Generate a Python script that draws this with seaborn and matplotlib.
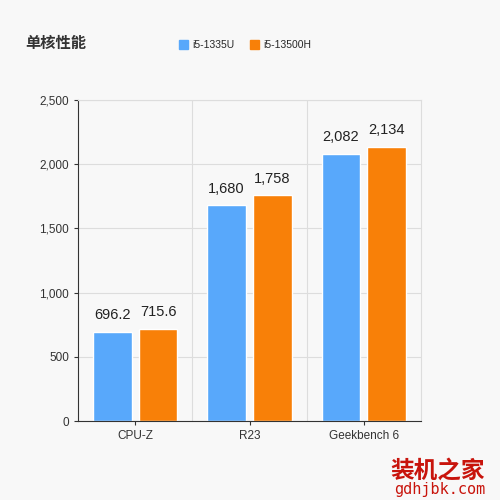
import matplotlib.pyplot as plt
import pandas as pd
import seaborn as sns
from matplotlib.patches import Patch
from matplotlib.ticker import FuncFormatter

categories = ["CPU-Z", "R23", "Geekbench 6"]
series = ["i5-1335U", "i5-13500H"]
u_vals = [696.2, 1680, 2082]
h_vals = [715.6, 1758, 2134]
labels_u = ["696.2", "1,680", "2,082"]
labels_h = ["715.6", "1,758", "2,134"]

df = pd.DataFrame({
    "cat": categories * 2,
    "cpu": [series[0]] * 3 + [series[1]] * 3,
    "val": u_vals + h_vals,
})

sns.set_style("white")
plt.rcParams["font.family"] = ["Liberation Sans", "Noto Sans CJK SC", "DejaVu Sans"]
bg = "#f8f8f8"
colors = ["#58a8fb", "#f88008"]

fig = plt.figure(figsize=(5, 5), dpi=100, facecolor=bg)
ax = fig.add_axes([0.156, 0.158, 0.686, 0.642], facecolor=bg)
sns.barplot(data=df, x="cat", y="val", hue="cpu", palette=colors, saturation=1,
            width=0.8, gap=0.16, ax=ax, legend=False)

for cont, labs in zip(ax.containers, [labels_u, labels_h]):
    ax.bar_label(cont, labels=labs, padding=7, fontsize=10.5, color="#222222")

ax.set_ylim(0, 2500)
ax.set_yticks(range(0, 2501, 500))
ax.yaxis.set_major_formatter(FuncFormatter(lambda v, p: f"{int(v):,}"))
ax.set_xlim(-0.5, 2.5)
for x in [0.5, 1.5]:
    ax.axvline(x, color="#dddddd", lw=0.8, zorder=0)
ax.grid(axis="y", color="#dddddd", lw=0.8)
ax.set_axisbelow(True)
for s in ["top", "right"]:
    ax.spines[s].set_color("#dddddd")
for s in ["left", "bottom"]:
    ax.spines[s].set_color("#333333")
ax.tick_params(axis="both", labelsize=8.5, colors="#333333", length=3, left=True, bottom=True)
ax.set_xlabel("")
ax.set_ylabel("")

fig.text(0.05, 0.905, "单核性能", fontsize=11, fontweight="bold", color="#333333",
         family=["Noto Sans CJK SC"])
handles = [Patch(color=c) for c in colors]
fig.legend(handles, series, loc="center", bbox_to_anchor=(0.49, 0.91), ncol=2,
           frameon=False, fontsize=7.5, handlelength=0.9, handleheight=0.9, columnspacing=1.5,
           handletextpad=0.4)

fig.text(0.97, 0.045, "装机之家", fontsize=17, color="#c8140c", ha="right", fontweight="bold",
         family=["Noto Sans CJK SC"])
fig.text(0.97, 0.012, "gdhjbk.com", fontsize=11, color="#c8140c", ha="right", family="DejaVu Sans Mono")

fig.savefig("out.png", dpi=100, facecolor=bg)
